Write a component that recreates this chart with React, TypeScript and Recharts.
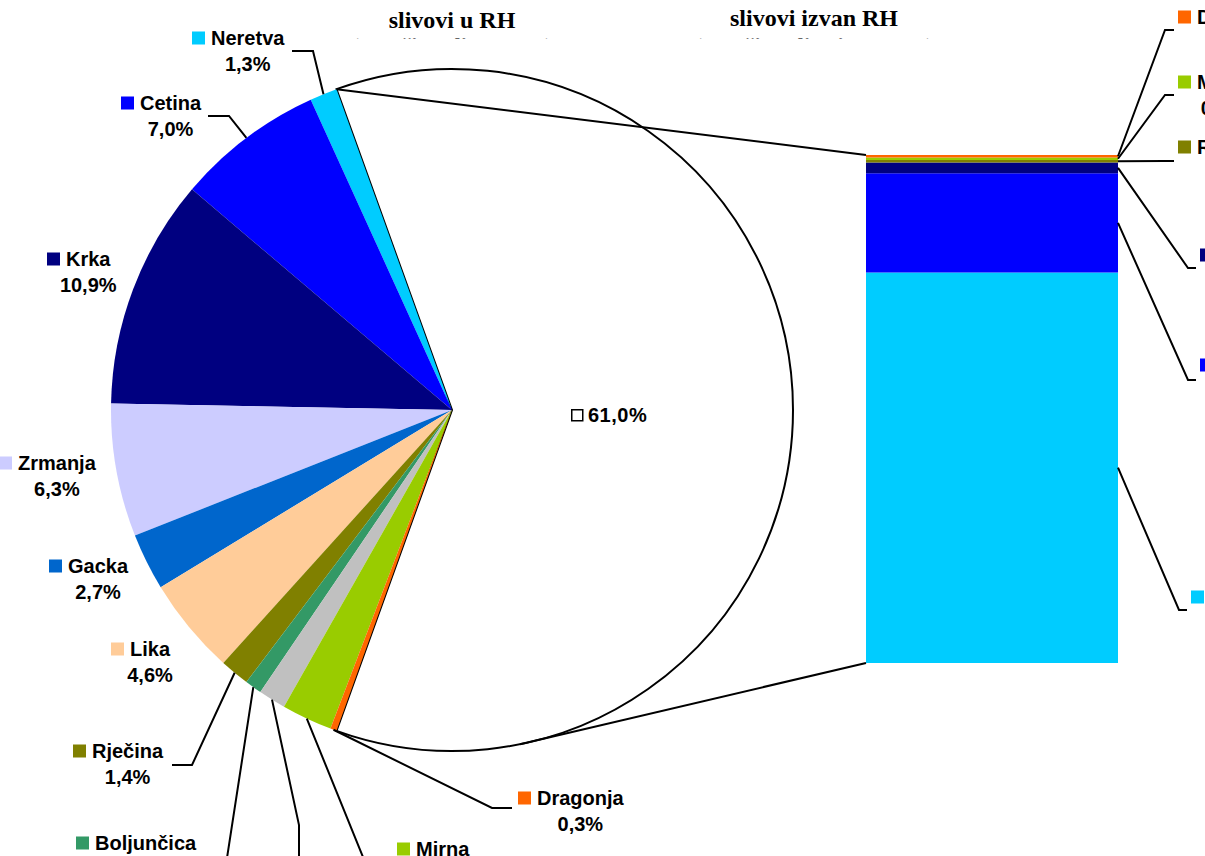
import { PieChart, Pie, Cell, BarChart, Bar, XAxis, YAxis } from 'recharts';

const W = 1205;
const H = 856;
const SANS = '"Liberation Sans", Arial, sans-serif';
const SERIF = '"Liberation Serif", "Times New Roman", serif';
const FS = 20;

// pie: slivovi u RH, first slice is the part shown in the bar
const pieNames = ['', 'Neretva', 'Cetina', 'Krka', 'Zrmanja', 'Gacka', 'Lika', 'Rječina', 'Boljunčica', 'Raša', 'Mirna', 'Dragonja'];
const pieValues = [61.0, 1.3, 7.0, 10.9, 6.3, 2.7, 4.6, 1.4, 0.8, 1.3, 2.4, 0.3];
const pieColors = ['#FFFFFF', '#00CCFF', '#0000FF', '#000080', '#CCCCFF', '#0066CC', '#FFCC99', '#808000', '#339966', '#C0C0C0', '#99CC00', '#FF6600'];

// bar: slivovi izvan RH, listed bottom to top
const barNames = ['Neretva', 'Cetina', 'Krka', 'Rječina', 'Mirna', 'Dragonja'];
const barValues = [46.9, 11.9, 1.3, 0.3, 0.3, 0.3];
const barColors = ['#00CCFF', '#0000FF', '#000080', '#808000', '#99CC00', '#FF6600'];

// label placement (square left x, middle y of the two-line label, leader elbow/end)
type LabelPos = { sx: number; y: number; elbow?: number[]; end?: number[] };
const pieLabelPos: LabelPos[] = [
  { sx: 571, y: 415 },
  { sx: 192, y: 51, elbow: [313, 51], end: [292, 51] },
  { sx: 121, y: 116, elbow: [229, 116], end: [208, 116] },
  { sx: 47, y: 272 },
  { sx: -1, y: 476 },
  { sx: 49, y: 579 },
  { sx: 111, y: 662 },
  { sx: 73, y: 764, elbow: [192, 765], end: [172, 765] },
  { sx: 76, y: 856, elbow: [227, 858], end: [205, 858] },
  { sx: 270, y: 910, elbow: [299, 825], end: [299, 890] },
  { sx: 397, y: 862, elbow: [365, 862], end: [388, 862] },
  { sx: 518, y: 811, elbow: [492, 808], end: [512, 808] },
];
const barLabelPos: LabelPos[] = [
  { sx: 1191, y: 610, elbow: [1179, 610], end: [1187, 610] },
  { sx: 1200, y: 378, elbow: [1188, 380], end: [1196, 380] },
  { sx: 1200, y: 268, elbow: [1188, 268], end: [1196, 268] },
  { sx: 1178, y: 160, elbow: [1165, 161], end: [1174, 161] },
  { sx: 1178, y: 95, elbow: [1165, 95], end: [1174, 95] },
  { sx: 1178, y: 30, elbow: [1165, 30], end: [1174, 30] },
];

const PIE_CX = 452;
const PIE_CY = 410;
const PIE_R = 341;
const OTHER_SHARE = pieValues[0] / pieValues.reduce((a, b) => a + b, 0);
const START = -OTHER_SHARE * 180;
const BOTTOM_LINK_ANGLE = -78.5;

const BAR_LEFT = 866;
const BAR_RIGHT = 1118;
const BAR_TOP = 155;
const BAR_BOTTOM = 663;
const barTotal = barValues.reduce((a, b) => a + b, 0);
const barRow: Record<string, number | string> = { name: 'izvan RH' };
barNames.forEach((n, i) => (barRow[n] = barValues[i]));

const RAD = Math.PI / 180;
const polar = (r: number, angle: number) => [PIE_CX + r * Math.cos(-angle * RAD), PIE_CY + r * Math.sin(-angle * RAD)];
const pct = (v: number) => v.toFixed(1).replace('.', ',') + '%';

let ctx: CanvasRenderingContext2D | null = null;
const textWidth = (s: string) => {
  if (!ctx) ctx = document.createElement('canvas').getContext('2d');
  if (!ctx) return s.length * 11;
  ctx.font = `bold ${FS}px ${SANS}`;
  return ctx.measureText(s).width;
};

const RiverLabel = ({ pos, from, name, value, color }: { pos: LabelPos; from: number[]; name: string; value: number; color: string }) => {
  const nx = pos.sx + 19;
  const w = textWidth(name);
  return (
    <g>
      {pos.elbow && pos.end && (
        <polyline
          points={`${from[0]},${from[1]} ${pos.elbow[0]},${pos.elbow[1]} ${pos.end[0]},${pos.end[1]}`}
          fill="none"
          stroke="#000"
          strokeWidth={2}
        />
      )}
      <rect x={pos.sx} y={pos.y - 19.5} width={13} height={13} fill={color} />
      <text x={nx} y={pos.y - 6} fontSize={FS} fontWeight="bold" fontFamily={SANS} fill="#000">
        {name}
      </text>
      <text x={nx + w / 2} y={pos.y + 20} fontSize={FS} fontWeight="bold" fontFamily={SANS} fill="#000" textAnchor="middle">
        {pct(value)}
      </text>
    </g>
  );
};

const renderPieLabel = (props: any) => {
  const { midAngle, index } = props;
  const pos = pieLabelPos[index];
  if (index === 0) {
    const top = polar(PIE_R, START + OTHER_SHARE * 360);
    const bottom = polar(PIE_R, BOTTOM_LINK_ANGLE);
    return (
      <g key="other">
        <line x1={top[0]} y1={top[1]} x2={BAR_LEFT} y2={BAR_TOP} stroke="#000" strokeWidth={2} />
        <line x1={bottom[0]} y1={bottom[1]} x2={BAR_LEFT} y2={BAR_BOTTOM} stroke="#000" strokeWidth={2} />
        <rect x={pos.sx + 0.75} y={pos.y - 5.25} width={11} height={11} fill="#fff" stroke="#000" strokeWidth={1.5} />
        <text x={pos.sx + 17} y={pos.y + 7} fontSize={FS} fontWeight="bold" fontFamily={SANS} fill="#000" letterSpacing={0.5}>
          {pct(pieValues[0])}
        </text>
      </g>
    );
  }
  return (
    <RiverLabel
      key={index}
      pos={pos}
      from={polar(PIE_R, midAngle)}
      name={pieNames[index]}
      value={pieValues[index]}
      color={pieColors[index]}
    />
  );
};

const renderBarLabel = (i: number) => (props: any) => {
  const { x, y, width, height } = props;
  return (
    <RiverLabel
      key={i}
      pos={barLabelPos[i]}
      from={[x + width, y + height / 2]}
      name={barNames[i]}
      value={barValues[i]}
      color={barColors[i]}
    />
  );
};

const pieData = pieNames.map((name, i) => ({ name: name || 'izvan RH', value: pieValues[i] }));

export default function App() {
  const layer = { position: 'absolute' as const, left: 0, top: 0 };
  return (
    <div style={{ ...layer, width: W, height: H, background: '#fff', overflow: 'hidden' }}>
      <svg width={W} height={H} style={layer}>
        <text x={452} y={28} fontSize={24} fontWeight="bold" fontFamily={SERIF} textAnchor="middle">slivovi u RH</text>
        <text x={814} y={26} fontSize={24} fontWeight="bold" fontFamily={SERIF} textAnchor="middle">slivovi izvan RH</text>
        <text x={452} y={53} fontSize={22} fontWeight="bold" fontFamily={SERIF} textAnchor="middle" fill="#666">(površina sliva u RH)</text>
        <text x={814} y={53} fontSize={22} fontWeight="bold" fontFamily={SERIF} textAnchor="middle" fill="#666">(površina sliva izvan RH)</text>
        <rect x={0} y={39} width={W} height={40} fill="#fff" />
      </svg>
      <div style={layer}>
        <PieChart width={W} height={H} margin={{ top: 0, right: 0, bottom: 0, left: 0 }}>
          <Pie
            data={pieData}
            dataKey="value"
            cx={PIE_CX}
            cy={PIE_CY}
            outerRadius={PIE_R}
            startAngle={START}
            endAngle={START + 360}
            label={renderPieLabel}
            labelLine={false}
            isAnimationActive={false}
          >
            {pieData.map((d, i) => (
              <Cell
                key={d.name}
                fill={pieColors[i]}
                stroke={i === 0 ? '#000' : 'none'}
                strokeWidth={i === 0 ? 2 : 0}
              />
            ))}
          </Pie>
        </PieChart>
      </div>
      <div style={layer}>
        <BarChart
          width={W}
          height={H}
          data={[barRow]}
          barCategoryGap={0}
          margin={{ top: BAR_TOP, bottom: H - BAR_BOTTOM, left: BAR_LEFT, right: W - BAR_RIGHT }}
        >
          <XAxis dataKey="name" hide />
          <YAxis hide domain={[0, barTotal]} />
          {barNames.map((n, i) => (
            <Bar
              key={n}
              dataKey={n}
              stackId="izvan"
              fill={barColors[i]}
              label={renderBarLabel(i)}
              isAnimationActive={false}
            />
          ))}
        </BarChart>
      </div>
    </div>
  );
}
